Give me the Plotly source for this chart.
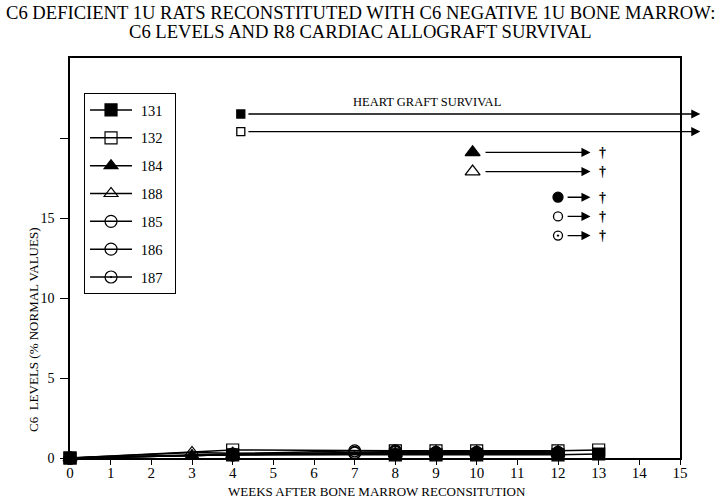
import plotly.graph_objects as go

SERIF = "Liberation Serif, Times New Roman, serif"

# ---- C6 levels (% normal values) ----
rats = ["131", "132", "184", "188", "185", "186", "187"]
weeks = {
    "131": [0, 4, 8, 9, 10, 12, 13],
    "132": [0, 4, 8, 9, 10, 12, 13],
    "184": [0, 3, 4, 8, 9, 10, 12],
    "188": [0, 3, 4, 8, 9, 10, 12],
    "185": [0, 4, 7, 8, 9, 10, 12],
    "186": [0, 4, 7, 8, 9, 10, 12],
    "187": [0, 4, 7, 8, 9, 10, 12],
}
c6 = {
    "131": [0, 0.2, 0.2, 0.2, 0.2, 0.2, 0.25],
    "132": [0, 0.5, 0.45, 0.45, 0.45, 0.45, 0.5],
    "184": [0, 0.15, 0.2, 0.25, 0.3, 0.3, 0.3],
    "188": [0, 0.35, 0.3, 0.3, 0.4, 0.4, 0.4],
    "185": [0, 0.2, 0.3, 0.35, 0.3, 0.3, 0.3],
    "186": [0, 0.25, 0.45, 0.45, 0.35, 0.35, 0.35],
    "187": [0, 0.2, 0.35, 0.4, 0.3, 0.3, 0.3],
}
symbols = {"131": "square", "132": "square-open", "184": "triangle-up",
           "188": "triangle-up-open", "185": "circle-open",
           "186": "circle-open", "187": "circle-open-dot"}
draw_order = ["185", "186", "187", "184", "188", "132", "131"]

# ---- heart graft survival ----
surv_start = [4.2, 4.2, 9.9, 9.9, 12.0, 12.0, 12.0]
surv_tail = [4.35, 4.35, 10.18, 10.18, 12.2, 12.2, 12.2]
surv_end = [15.5, 15.5, 12.8, 12.8, 12.8, 12.8, 12.8]
surv_y = [21.5, 20.4, 19.1, 17.9, 16.3, 15.1, 13.9]
surv_dead = [False, False, True, True, True, True, True]
surv_symbols = ["square", "square-open", "triangle-up", "triangle-up-open",
                "circle", "circle-open", "circle-open-dot"]
surv_sizes = [8, 8, 13, 13, 10, 9, 9]
dagger_x = 13.1

x_ticks = list(range(0, 16))
y_ticks = [0, 5, 10, 15, 20]
y_ticktext = ["0", "5", "10", "15", ""]

NBSP = "\u00a0"

fig = go.Figure()

for r in draw_order:
    fig.add_trace(go.Scatter(
        x=weeks[r], y=c6[r], name=NBSP + r + NBSP * 2, mode="lines+markers",
        legendgroup=r, legendrank=rats.index(r) + 1,
        line=dict(color="black", width=1.5),
        marker=dict(symbol=symbols[r], size=12, color="black", opacity=1,
                    line=dict(color="black", width=1.2)),
        cliponaxis=False,
    ))

fig.add_trace(go.Scatter(
    x=surv_start, y=surv_y, mode="markers", showlegend=False,
    marker=dict(symbol=surv_symbols, size=surv_sizes, color="black", opacity=1,
                line=dict(color="black", width=1.3)),
    cliponaxis=False, hoverinfo="skip",
))

annotations = []
for i in range(len(rats)):
    annotations.append(dict(
        x=surv_end[i], y=surv_y[i], ax=surv_tail[i], ay=surv_y[i],
        xref="x", yref="y", axref="x", ayref="y", text="",
        showarrow=True, arrowhead=2, arrowsize=1.3, arrowwidth=1.4,
        arrowcolor="black",
    ))
    if surv_dead[i]:
        annotations.append(dict(
            x=dagger_x, y=surv_y[i], xref="x", yref="y", text="<b>†</b>",
            showarrow=False, font=dict(family=SERIF, size=14, color="black"),
        ))

annotations.append(dict(
    x=8.79, y=22.25, xref="x", yref="y", text="HEART GRAFT SURVIVAL",
    showarrow=False, font=dict(family=SERIF, size=12.5, color="black"),
))
annotations.append(dict(
    x=-37 / 610, y=0.32, xref="paper", yref="paper",
    xanchor="center", yanchor="middle",
    text="C6  LEVELS (% NORMAL VALUES)", textangle=-90, showarrow=False,
    font=dict(family=SERIF, size=13, color="black"),
))
annotations.append(dict(
    x=0.5025, y=-0.0825, xref="paper", yref="paper",
    xanchor="center", yanchor="middle",
    text="WEEKS AFTER BONE MARROW RECONSITUTION", showarrow=False,
    font=dict(family=SERIF, size=13, color="black"),
))
annotations.append(dict(
    x=(360 - 70) / 610, y=(458 - 12) / 400, xref="paper", yref="paper",
    xanchor="center", yanchor="middle",
    text="C6 DEFICIENT 1U RATS RECONSTITUTED WITH C6 NEGATIVE 1U BONE MARROW:",
    showarrow=False, font=dict(family=SERIF, size=18.6, color="black"),
))
annotations.append(dict(
    x=(360 - 70) / 610, y=(458 - 31) / 400, xref="paper", yref="paper",
    xanchor="center", yanchor="middle",
    text="C6 LEVELS AND R8 CARDIAC ALLOGRAFT SURVIVAL",
    showarrow=False, font=dict(family=SERIF, size=18.6, color="black"),
))

fig.update_layout(
    width=720, height=498,
    margin=dict(l=70, r=40, t=58, b=40, autoexpand=False),
    paper_bgcolor="white", plot_bgcolor="white",
    font=dict(family=SERIF, color="black"),
    showlegend=True,
    legend=dict(
        x=0.023, y=0.9125, xanchor="left", yanchor="top",
        bordercolor="black", borderwidth=1, bgcolor="white",
        font=dict(family=SERIF, size=14.5, color="black"),
        traceorder="grouped", tracegroupgap=6, itemwidth=42,
    ),
    annotations=annotations,
    xaxis=dict(
        range=[0, 15], tickvals=x_ticks, ticks="outside", ticklen=5,
        tickwidth=1, tickcolor="black", showline=True, linecolor="black",
        linewidth=1.5, mirror=True, showgrid=False, zeroline=False,
        automargin=False, ticklabelstandoff=-5,
        tickfont=dict(family=SERIF, size=15, color="black"),
    ),
    yaxis=dict(
        range=[0, 25], tickvals=y_ticks, ticktext=y_ticktext,
        ticks="outside", ticklen=8, tickwidth=1, tickcolor="black",
        showline=True, linecolor="black", linewidth=1.5, mirror=True,
        showgrid=False, zeroline=False, automargin=False,
        ticklabelstandoff=3,
        tickfont=dict(family=SERIF, size=14, color="black"),
    ),
)

fig.write_html("out.html", config={"displayModeBar": False},
               post_script="document.body.style.margin='0';")
